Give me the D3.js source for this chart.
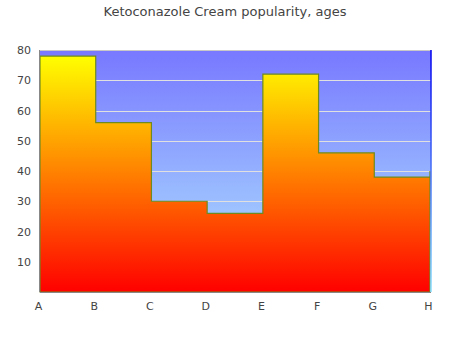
<!DOCTYPE html>
<html><head><meta charset="utf-8">
<script src="https://cdn.jsdelivr.net/npm/d3@7/dist/d3.min.js"></script>
<style>body{margin:0;background:#fff}svg{display:block;font-family:"DejaVu Sans",sans-serif}</style>
</head><body><svg id="c" width="450" height="350"></svg>
<script>
const categories = ["A","B","C","D","E","F","G","H"];
const values = [78,56,30,26,72,46,38,40];
const yTicks = [10,20,30,40,50,60,70,80];
const title = "Ketoconazole Cream popularity, ages";

const svg = d3.select("#c");
const L=40, R=431, T=50, B=292;
const x = d3.scalePoint().domain(categories).range([L, R-1]);
const y = d3.scaleLinear().domain([0,80]).range([B, T]);
const defs = svg.append("defs");
const bg = defs.append("linearGradient").attr("id","bg").attr("x1",0).attr("y1",0).attr("x2",0).attr("y2",1);
bg.append("stop").attr("offset",0).attr("stop-color","#7878ff");
bg.append("stop").attr("offset",1).attr("stop-color","#b0e8ff");
const ag = defs.append("linearGradient").attr("id","ag").attr("gradientUnits","userSpaceOnUse")
  .attr("x1",0).attr("y1",y(d3.max(values))).attr("x2",0).attr("y2",B);
ag.append("stop").attr("offset",0).attr("stop-color","#ffff00");
ag.append("stop").attr("offset",1).attr("stop-color","#ff0000");
const rg = defs.append("linearGradient").attr("id","rg").attr("gradientUnits","userSpaceOnUse")
  .attr("x1",0).attr("y1",T).attr("x2",0).attr("y2",B);
rg.append("stop").attr("offset",0).attr("stop-color","#0000ee");
rg.append("stop").attr("offset",1).attr("stop-color","#88ddff");

svg.append("text").attr("x",225).attr("y",16).attr("text-anchor","middle")
  .attr("font-size",13).attr("fill","#444").text(title);

svg.append("rect").attr("x",L).attr("y",T).attr("width",R-L).attr("height",B-T).attr("fill","url(#bg)");
svg.append("g").selectAll("line").data(yTicks).join("line")
  .attr("x1",L).attr("x2",R).attr("y1",d=>Math.round(y(d))+0.5).attr("y2",d=>Math.round(y(d))+0.5)
  .attr("stroke",d=>d===80?"#c8c8c8":"#e0e0e0").attr("stroke-width",1);

const data = categories.map((c,i)=>({c,v:values[i]}));
const area = d3.area().curve(d3.curveStepAfter).x(d=>x(d.c)).y0(B).y1(d=>y(d.v));
svg.append("path").datum(data).attr("d",area).attr("fill","url(#ag)")
  .attr("stroke","#6f8a1f").attr("stroke-width",1.2);

svg.append("line").attr("x1",R).attr("x2",R).attr("y1",T).attr("y2",B).attr("stroke","url(#rg)").attr("stroke-width",1.5);
svg.append("line").attr("x1",L-0.5).attr("x2",L-0.5).attr("y1",T).attr("y2",B).attr("stroke","#888");
svg.append("line").attr("x1",L).attr("x2",R).attr("y1",B+0.5).attr("y2",B+0.5).attr("stroke","#888");

svg.append("g").selectAll("text").data(yTicks).join("text")
  .attr("x",31).attr("y",d=>y(d)+4).attr("text-anchor","end").attr("font-size",11).attr("fill","#444").text(d=>d);
svg.append("g").selectAll("text").data(categories).join("text")
  .attr("x",d=>x(d)-1.5).attr("y",310).attr("text-anchor","middle").attr("font-size",11).attr("fill","#444").text(d=>d);
</script></body></html>
